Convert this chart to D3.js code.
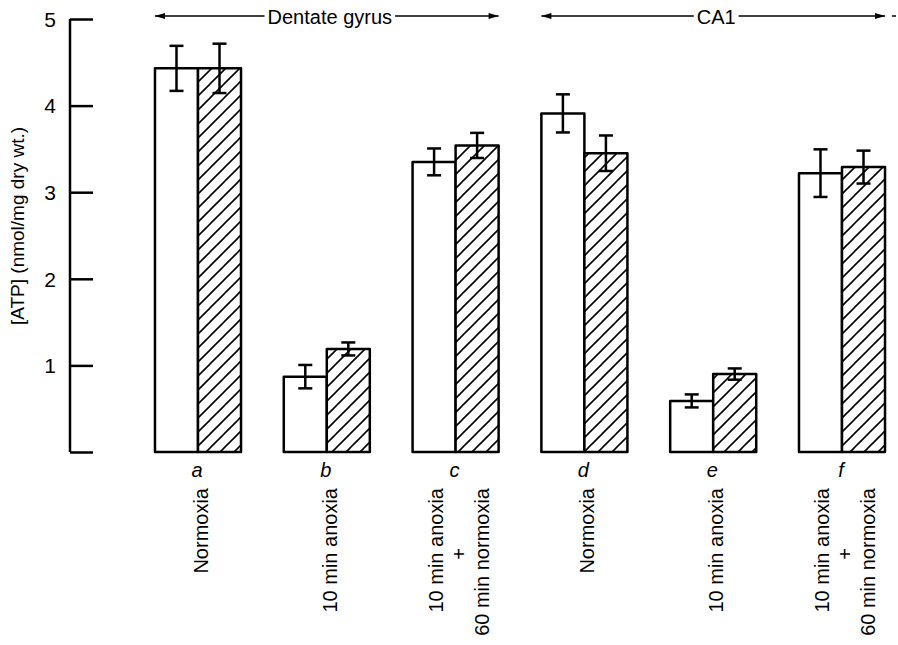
<!DOCTYPE html>
<html>
<head>
<meta charset="utf-8">
<script src="https://cdn.jsdelivr.net/npm/d3@7"></script>
<style>
  body { margin: 0; background: #fff; }
  svg { font-family: "Liberation Sans", Arial, sans-serif; }
</style>
</head>
<body>
<svg id="chart" width="898" height="645"></svg>
<script>
// group letters and the condition under each pair of bars
const groups = ['a', 'b', 'c', 'd', 'e', 'f'];
const conditions = [
  ['Normoxia'],
  ['10 min anoxia'],
  ['10 min anoxia', '+', '60 min normoxia'],
  ['Normoxia'],
  ['10 min anoxia'],
  ['10 min anoxia', '+', '60 min normoxia']
];
const series = ['open', 'hatched'];

// [ATP] means and error half-widths, nmol/mg dry wt.
const openMean = [4.43, 0.87, 3.35, 3.91, 0.59, 3.22];
const openErr = [0.26, 0.135, 0.155, 0.22, 0.075, 0.275];
const hatchedMean = [4.43, 1.19, 3.54, 3.45, 0.90, 3.29];
const hatchedErr = [0.285, 0.075, 0.145, 0.205, 0.065, 0.19];

const yTicks = [0, 1, 2, 3, 4, 5];

// regions marked with arrows above the bars
const regions = [
  { name: 'Dentate gyrus', from: 'a', to: 'c' },
  { name: 'CA1', from: 'd', to: 'f' }
];

const svg = d3.select('#chart');

const y = d3.scaleLinear().domain([0, 5]).range([452, 19]);
const x = d3.scaleBand().domain(groups).range([133.6, 906.4])
  .paddingInner(0.332).paddingOuter(0.166);
const xs = d3.scaleBand().domain(series).range([0, x.bandwidth()]);

// hatch pattern
const defs = svg.append('defs');
const pat = defs.append('pattern')
  .attr('id', 'hatch')
  .attr('patternUnits', 'userSpaceOnUse')
  .attr('width', 14).attr('height', 14);
pat.append('rect').attr('width', 14).attr('height', 14).attr('fill', '#fff');
pat.append('path')
  .attr('d', 'M-3,3 l6,-6 M0,14 l14,-14 M11,17 l6,-6')
  .attr('stroke', '#000').attr('stroke-width', 1.6);

// y axis
const yAxis = d3.axisRight(y).tickValues(yTicks).tickSize(23)
  .tickFormat(d => d === 0 ? '' : d);
const ya = svg.append('g').attr('transform', 'translate(70,0)').call(yAxis);
ya.select('.domain').attr('stroke', '#000').attr('stroke-width', 2.5)
  .attr('d', `M0,${y(5)}V${y(0)}`);
ya.selectAll('.tick line').attr('stroke', '#000').attr('stroke-width', 2.5);
ya.selectAll('.tick text')
  .attr('x', -14).attr('text-anchor', 'end').attr('dy', '0.35em')
  .attr('fill', '#000').style('font-size', '21px');

svg.append('text')
  .attr('transform', 'translate(24,226) rotate(-90)')
  .attr('text-anchor', 'middle')
  .style('font-size', '19px')
  .text('[ATP] (nmol/mg dry wt.)');

// bars
const rows = [];
groups.forEach((g, i) => {
  rows.push({ g, s: 'open', v: openMean[i], e: openErr[i] });
  rows.push({ g, s: 'hatched', v: hatchedMean[i], e: hatchedErr[i] });
});

svg.append('g').selectAll('rect')
  .data(rows).enter().append('rect')
  .attr('x', d => x(d.g) + xs(d.s))
  .attr('y', d => y(d.v))
  .attr('width', xs.bandwidth())
  .attr('height', d => y(0) - y(d.v))
  .attr('fill', d => d.s === 'open' ? '#fff' : 'url(#hatch)')
  .attr('stroke', '#000').attr('stroke-width', 2.5)
  .attr('stroke-linejoin', 'round');

// error bars
const eb = svg.append('g').selectAll('g')
  .data(rows).enter().append('g')
  .attr('transform', d => `translate(${x(d.g) + xs(d.s) + xs.bandwidth() / 2},0)`)
  .attr('stroke', '#000').attr('stroke-width', 2.5);
eb.append('line').attr('y1', d => y(d.v + d.e)).attr('y2', d => y(d.v - d.e));
eb.append('line').attr('x1', -7).attr('x2', 7)
  .attr('y1', d => y(d.v + d.e)).attr('y2', d => y(d.v + d.e));
eb.append('line').attr('x1', -7).attr('x2', 7)
  .attr('y1', d => y(d.v - d.e)).attr('y2', d => y(d.v - d.e));

// group letters
const center = g => x(g) + x.bandwidth() / 2;
svg.append('g').selectAll('text')
  .data(groups).enter().append('text')
  .attr('x', d => center(d) - 1)
  .attr('y', 477)
  .attr('text-anchor', 'middle')
  .style('font-size', '20px').style('font-style', 'italic')
  .text(d => d);

// rotated condition labels
groups.forEach((g, i) => {
  const lines = conditions[i];
  const gap = 23;
  lines.forEach((t, j) => {
    const cx = center(g) + (j - (lines.length - 1) / 2) * gap + 10;
    const plus = t === '+';
    svg.append('text')
      .attr('transform', `translate(${cx},${plus ? 554 : 488}) rotate(-90)`)
      .attr('text-anchor', plus ? 'middle' : 'end')
      .style('font-size', '20px')
      .text(t);
  });
});

// region arrows
defs.append('marker')
  .attr('id', 'arrow').attr('viewBox', '0 0 10 6')
  .attr('refX', 10).attr('refY', 3)
  .attr('markerWidth', 11).attr('markerHeight', 6)
  .attr('markerUnits', 'userSpaceOnUse')
  .attr('orient', 'auto-start-reverse')
  .append('path').attr('d', 'M0,0L10,3L0,6Z').attr('fill', '#000');

regions.forEach(r => {
  const x1 = x(r.from);
  const x2 = x(r.to) + x.bandwidth();
  const xm = (x1 + x2) / 2 + 3;
  const t = svg.append('text')
    .attr('x', xm).attr('y', 24)
    .attr('text-anchor', 'middle')
    .style('font-size', '20px')
    .text(r.name);
  const w = t.node().getComputedTextLength();
  svg.append('line')
    .attr('x1', xm - w / 2 - 3).attr('x2', x1).attr('y1', 16).attr('y2', 16)
    .attr('stroke', '#000').attr('stroke-width', 1.5)
    .attr('marker-end', 'url(#arrow)');
  svg.append('line')
    .attr('x1', xm + w / 2 + 3).attr('x2', x2).attr('y1', 16).attr('y2', 16)
    .attr('stroke', '#000').attr('stroke-width', 1.5)
    .attr('marker-end', 'url(#arrow)');
});
// stray dash at the far right of the CA1 arrow
svg.append('line')
  .attr('x1', x('f') + x.bandwidth() + 7).attr('x2', x('f') + x.bandwidth() + 11)
  .attr('y1', 16).attr('y2', 16)
  .attr('stroke', '#000').attr('stroke-width', 1.5);
</script>
</body>
</html>
